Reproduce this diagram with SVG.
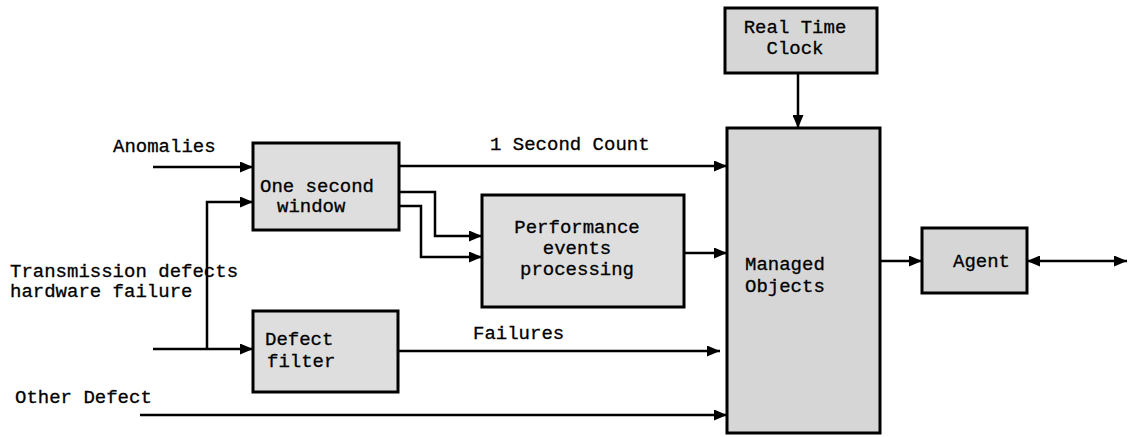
<svg xmlns="http://www.w3.org/2000/svg" width="1132" height="437" viewBox="0 0 1132 437">
  <style>
    .box { fill: #dedede; stroke: #000; stroke-width: 3; }
    .box2 { fill: #d6d6d6; stroke: #000; stroke-width: 3; }
    .lbl { font-family: "Liberation Mono", "DejaVu Sans Mono", monospace; font-size: 19px; fill: #000; stroke: #000; stroke-width: 0.3; }
    .mid { text-anchor: middle; }
    .wire { fill: none; stroke: #000; stroke-width: 2.5; }
  </style>
  <defs>
    <marker id="arrow" viewBox="0 0 13 11" refX="13" refY="5.5" markerWidth="13" markerHeight="11" markerUnits="userSpaceOnUse" orient="auto-start-reverse">
      <path d="M0,0 L13,5.5 L0,11 Z" fill="#000"/>
    </marker>
  </defs>

  <rect width="1132" height="437" fill="#fff"/>

  <!-- connectors -->
  <g id="connectors" class="wire">
    <path d="M153,167 H253" marker-end="url(#arrow)"/>
    <path d="M207,349 V202 H253" marker-end="url(#arrow)"/>
    <path d="M153,349 H253" marker-end="url(#arrow)"/>
    <path d="M399,166 H727" marker-end="url(#arrow)"/>
    <path d="M399,192 H435 V236 H482" marker-end="url(#arrow)"/>
    <path d="M399,206 H421 V257 H482" marker-end="url(#arrow)"/>
    <path d="M684,253 H727" marker-end="url(#arrow)"/>
    <path d="M398,351 H720" marker-end="url(#arrow)"/>
    <path d="M140,415 H727" marker-end="url(#arrow)"/>
    <path d="M798,73 V128" marker-end="url(#arrow)"/>
    <path d="M880,261 H922" marker-end="url(#arrow)"/>
    <path d="M1027,261 H1127" marker-start="url(#arrow)" marker-end="url(#arrow)"/>
  </g>

  <!-- connector labels and inputs -->
  <g id="labels">
    <text class="lbl" x="113" y="152">Anomalies</text>
    <text class="lbl" x="10" y="277">Transmission defects</text>
    <text class="lbl" x="10" y="297">hardware failure</text>
    <text class="lbl" x="15" y="403">Other Defect</text>
    <text class="lbl" x="490" y="150">1 Second Count</text>
    <text class="lbl" x="473" y="339">Failures</text>
  </g>

  <g id="one-second-window">
    <rect class="box" x="253" y="143" width="146" height="87"/>
    <text class="lbl" x="260" y="192">One second</text>
    <text class="lbl" x="277" y="212">window</text>
  </g>

  <g id="defect-filter">
    <rect class="box" x="253" y="311" width="145" height="81"/>
    <text class="lbl" x="265" y="345">Defect</text>
    <text class="lbl" x="267" y="367">filter</text>
  </g>

  <g id="performance-events">
    <rect class="box" x="482" y="195" width="202" height="112"/>
    <text class="lbl mid" x="577" y="233">Performance</text>
    <text class="lbl mid" x="577" y="254">events</text>
    <text class="lbl mid" x="577" y="275">processing</text>
  </g>

  <g id="real-time-clock">
    <rect class="box2" x="725" y="8" width="152" height="65"/>
    <text class="lbl mid" x="795" y="33">Real Time</text>
    <text class="lbl mid" x="795" y="54">Clock</text>
  </g>

  <g id="managed-objects">
    <rect class="box2" x="727" y="128" width="153" height="305"/>
    <text class="lbl" x="745" y="270">Managed</text>
    <text class="lbl" x="745" y="292">Objects</text>
  </g>

  <g id="agent">
    <rect class="box2" x="922" y="228" width="105" height="65"/>
    <text class="lbl" x="953" y="267">Agent</text>
  </g>
</svg>
